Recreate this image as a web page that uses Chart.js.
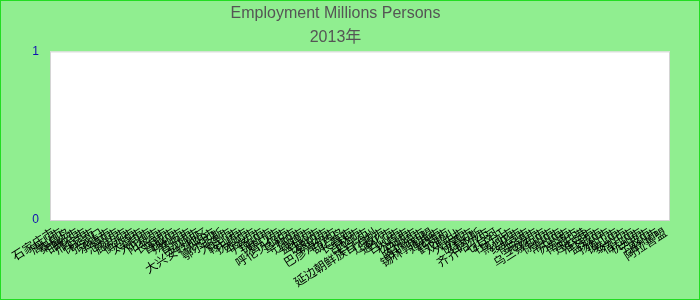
<!DOCTYPE html>
<html>
<head>
<meta charset="utf-8">
<script src="https://cdn.jsdelivr.net/npm/chart.js@4/dist/chart.umd.min.js"></script>
<style>
  html, body { margin: 0; padding: 0; }
  #wrap {
    width: 698px; height: 298px;
    border: 1px solid #22dd22;
    background: #90ee90;
  }
</style>
</head>
<body>
<div id="wrap"><canvas id="chart" width="698" height="298"></canvas></div>
<script>
// chart text
const chartTitle = "Employment Millions Persons";
const chartSubtitle = "2013年";

// categories (x axis)
const categories = [
  "石家庄市", "唐山市", "秦皇岛", "邯郸市", "邢台市", "保定市", "张家口", "承德市",
  "沧州市", "廊坊市", "衡水市", "太原市", "大同市", "阳泉市", "长治市", "晋城市",
  "朔州市", "晋中市", "运城市", "大兴安岭地区", "沈阳市", "鄂尔多斯", "大连市", "鞍山市",
  "抚顺市", "本溪市", "丹东市", "锦州市", "营口市", "呼伦贝尔市", "阜新市", "辽阳市",
  "盘锦市", "铁岭市", "朝阳市", "巴彦淖尔市", "葫芦岛", "长春市", "吉林市", "四平市",
  "延边朝鲜族自治州", "辽源市", "通化市", "白山市", "松原市", "白城市", "哈尔滨市", "锡林郭勒盟",
  "鸡西市", "鹤岗市", "双鸭山", "大庆市", "伊春市", "佳木斯", "齐齐哈尔市", "七台河",
  "牡丹江", "黑河市", "绥化市", "南京市", "无锡市", "乌兰察布市", "徐州市", "常州市",
  "苏州市", "南通市", "连云港", "淮安市", "盐城市", "扬州市", "镇江市", "泰州市",
  "宿迁市", "杭州市", "宁波市", "温州市", "阿拉善盟"
];

// series values: nothing is plotted in the picture
const values = [];

// y axis tick labels
const yTicks = [0, 1];

//white plot area with a thin grey frame
const plotFrame = {
  id: "plotFrame",
  beforeDraw(chart) {
    const { ctx, chartArea: a } = chart;
    ctx.save();
    ctx.fillStyle = "#ffffff";
    ctx.fillRect(a.left, a.top, a.right - a.left, a.bottom - a.top);
    ctx.strokeStyle = "#d4d4d4";
    ctx.lineWidth = 1;
    ctx.strokeRect(a.left + 0.5, a.top + 0.5, a.right - a.left - 1, a.bottom - a.top);
    ctx.restore();
  }
};

Chart.defaults.font.family = 'Arial, "Liberation Sans", "Noto Sans CJK SC", sans-serif';

new Chart(document.getElementById("chart"), {
  type: "bar",
  data: {
    labels: categories,
    datasets: [{
      label: chartTitle,
      data: values,
      backgroundColor: "#4a7ebb"
    }]
  },
  plugins: [plotFrame],
  options: {
    responsive: false,
    animation: false,
    layout: { padding: { left: 0, right: 29, top: 0, bottom: 0 } },
    plugins: {
      legend: { display: false },
      tooltip: { enabled: false },
      title: {
        display: true,
        text: chartTitle,
        color: "#555555",
        font: { size: 16, weight: "normal" },
        padding: { top: 3, bottom: 5 }
      },
      subtitle: {
        display: true,
        text: chartSubtitle,
        color: "#555555",
        font: { size: 16, weight: "normal" },
        padding: { top: 0, bottom: 4 }
      }
    },
    scales: {
      x: {
        grid: { display: false, drawTicks: false },
        border: { display: false },
        ticks: {
          autoSkip: false,
          minRotation: 33,
          maxRotation: 33,
          color: "#000000",
          font: { size: 12 },
          padding: 6
        },
        afterFit(scale) { scale.height = 79; }
      },
      y: {
        min: yTicks[0],
        max: yTicks[yTicks.length - 1],
        grid: { display: false },
        border: { display: false },
        ticks: {
          stepSize: 1,
          color: "#1010b0",
          font: { size: 12 }
        },
        afterFit(scale) { scale.width = 49; }
      }
    }
  }
});
</script>
</body>
</html>
